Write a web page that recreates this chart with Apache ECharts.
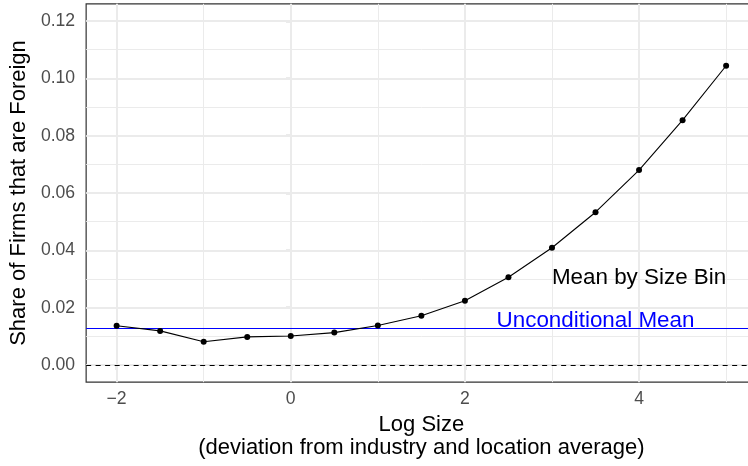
<!DOCTYPE html>
<html>
<head>
<meta charset="utf-8">
<script src="https://cdn.jsdelivr.net/npm/echarts@6/dist/echarts.min.js"></script>
<style>
html,body{margin:0;padding:0;background:#fff;overflow:hidden;width:748px;height:466px;}
#chart{width:757px;height:466px;}
</style>
</head>
<body>
<div id="chart"></div>
<script>
// ---- data ----
const logSize = [-2, -1.5, -1, -0.5, 0, 0.5, 1, 1.5, 2, 2.5, 3, 3.5, 4, 4.5, 5];
const shareForeign = [0.0137, 0.0119, 0.0081, 0.0098, 0.0101, 0.0113, 0.0138, 0.0172, 0.0224, 0.0306, 0.0409, 0.0533, 0.0680, 0.0854, 0.1044];
const unconditionalMean = 0.0128;
const zeroLine = 0;
const xTicks = [-2, 0, 2, 4];
const xMinorTicks = [-1, 1, 3, 5];
const yTicks = [0, 0.02, 0.04, 0.06, 0.08, 0.10, 0.12];
const yMinorTicks = [0.01, 0.03, 0.05, 0.07, 0.09, 0.11];
const annotationTexts = ['Mean by Size Bin', 'Unconditional Mean'];
const annotationX = [4.0, 3.5];
const annotationY = [0.0303, 0.0155];
const annotationColors = ['#000000', '#0000FF'];
const xTitle = 'Log Size\n(deviation from industry and location average)';
const yTitle = 'Share of Firms that are Foreign';

// ---- chart ----
const FONT = 'Liberation Sans, Arial, sans-serif';
const chart = echarts.init(document.getElementById('chart'), null, {renderer: 'canvas'});

const gridLines = [];
xTicks.forEach(v => gridLines.push({xAxis: v, lineStyle: {color: '#EBEBEB', width: 2, type: 'solid'}}));
xMinorTicks.forEach(v => gridLines.push({xAxis: v, lineStyle: {color: '#EBEBEB', width: 1, type: 'solid'}}));
yTicks.forEach(v => gridLines.push({yAxis: v, lineStyle: {color: '#EBEBEB', width: 2, type: 'solid'}}));
yMinorTicks.forEach(v => gridLines.push({yAxis: v, lineStyle: {color: '#EBEBEB', width: 1, type: 'solid'}}));

const option = {
  animation: false,
  backgroundColor: '#ffffff',
  textStyle: {fontFamily: FONT},
  grid: {
    left: 84.3, right: 0.4, top: 3.8, bottom: 83.8,
    show: true, borderColor: '#333333', borderWidth: 1.2, backgroundColor: 'transparent',
    containLabel: false
  },
  xAxis: {
    type: 'value', min: -2.35, max: 5.35,
    axisLine: {show: false},
    splitLine: {show: false},
    axisTick: {show: true, customValues: xTicks, length: 5, lineStyle: {color: '#333333', width: 1.2}},
    axisLabel: {show: true, customValues: xTicks, margin: 8, color: '#4D4D4D', fontSize: 17.6, fontFamily: FONT,
      formatter: v => String(v).replace('-', '\u2212')},
    name: xTitle, nameLocation: 'middle', nameGap: 28.4,
    nameTextStyle: {color: '#000000', fontSize: 22, fontFamily: FONT, lineHeight: 23.5}
  },
  yAxis: {
    type: 'value', min: -0.006, max: 0.126,
    axisLine: {show: false},
    splitLine: {show: false},
    axisTick: {show: true, customValues: yTicks, length: 5, lineStyle: {color: '#333333', width: 1.2}},
    axisLabel: {show: true, customValues: yTicks, margin: 11, color: '#4D4D4D', fontSize: 17.6, fontFamily: FONT,
      formatter: v => v.toFixed(2)},
    name: yTitle, nameLocation: 'middle', nameGap: 53, nameRotate: 90,
    nameTextStyle: {color: '#000000', fontSize: 22, fontFamily: FONT}
  },
  series: [
    {
      type: 'line', data: [], z: 1, silent: true,
      markLine: {z: 1, silent: true, symbol: 'none', precision: 6, label: {show: false}, animation: false, data: gridLines}
    },
    {
      type: 'line', data: [], z: 2, silent: true,
      markLine: {z: 2, silent: true, symbol: 'none', precision: 6, label: {show: false}, animation: false,
        data: [
          {yAxis: zeroLine, lineStyle: {color: '#000000', width: 1.1, type: [5, 4.5]}},
          {yAxis: unconditionalMean, lineStyle: {color: '#0000FF', width: 1.2, type: 'solid'}}
        ]}
    },
    {
      type: 'line', z: 4,
      data: logSize.map((x, i) => [x, shareForeign[i]]),
      symbol: 'circle', symbolSize: 6, showSymbol: true,
      itemStyle: {color: '#000000'},
      lineStyle: {color: '#000000', width: 1.1}
    },
    {
      type: 'scatter', z: 6, symbolSize: 0, silent: true,
      itemStyle: {opacity: 1},
      data: annotationTexts.map((t, i) => ({
        value: [annotationX[i], annotationY[i]],
        label: {show: true, formatter: t, position: 'inside', align: 'center', verticalAlign: 'middle',
          color: annotationColors[i], opacity: 1, fontSize: 22.4, fontFamily: FONT}
      }))
    }
  ]
};
chart.setOption(option);
</script>
</body>
</html>
